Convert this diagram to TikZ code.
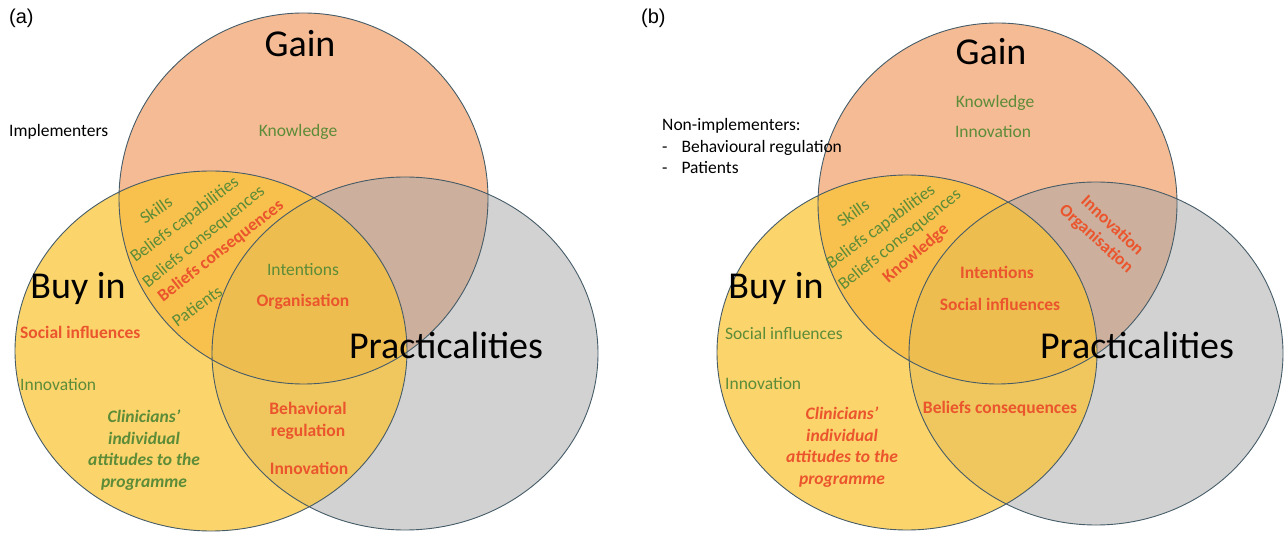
\documentclass[tikz,border=0pt]{standalone}
\usepackage{fontspec}
\setmainfont{Carlito}
\newfontfamily\panelfont{Liberation Sans}

\definecolor{gainfill}{RGB}{245,187,148}
\definecolor{pracfill}{RGB}{165,165,165}
\definecolor{buyfill}{RGB}{250,195,50}
\definecolor{rimcol}{RGB}{70,92,104}
\definecolor{tdfgreen}{RGB}{92,140,56}
\definecolor{tdfred}{RGB}{235,85,45}

\newcommand{\gainA}{(303.5,198.5) ellipse [x radius=184.5, y radius=185.5]}
\newcommand{\pracA}{(405,353.5) ellipse [x radius=193, y radius=176.5]}
\newcommand{\buyA}{(211,351) ellipse [x radius=196, y radius=180]}
\newcommand{\gainB}{(997.5,203.5) ellipse [x radius=179.5, y radius=180.5]}
\newcommand{\pracB}{(1096,353.5) ellipse [x radius=187, y radius=171.5]}
\newcommand{\buyB}{(907,352.5) ellipse [x radius=190, y radius=177.5]}

\newcommand{\attitudes}{Clinicians'\\individual\\attitudes to the\\programme}

\begin{document}
\begin{tikzpicture}[
    x=1pt, y=-1pt,
    gain/.style={fill=gainfill},
    prac/.style={fill=pracfill, fill opacity=0.5},
    buyin/.style={fill=buyfill, fill opacity=0.72},
    rim/.style={draw=rimcol, line width=0.9pt},
    big/.style={font=\fontsize{38}{40}\selectfont, anchor=base, inner sep=0pt},
    small/.style={font=\fontsize{17.5}{21.5}\selectfont, inner sep=0pt},
    greenlbl/.style={small, text=tdfgreen},
    redlbl/.style={small, text=tdfred, font=\fontsize{17.5}{21.5}\selectfont\bfseries},
    att/.style={font=\fontsize{17.5}{21.5}\selectfont\bfseries\itshape, align=center, inner sep=0pt},
    note/.style={small, anchor=west},
    panel/.style={font=\panelfont\fontsize{20}{22}\selectfont, anchor=west, inner sep=0pt}
]
\useasboundingbox (0,0) rectangle (1288,534);

\fill[gain] \gainA;
\fill[prac] \pracA;
\fill[buyin] \buyA;
\draw[rim] \gainA \pracA \buyA;

\fill[gain] \gainB;
\fill[prac] \pracB;
\fill[buyin] \buyB;
\draw[rim] \gainB \pracB \buyB;

% implementers
\node[panel] (pa) at (9,18) {(a)};
\node[big] (gaina) at (300,57) {Gain};
\node[big] (buya) at (78,299) {Buy in};
\node[big] (praca) at (446,359) {Practicalities};
\node[note] (impl) at (9,132) {Implementers};
\node[greenlbl] (knowa) at (298,132) {Knowledge};
\node[greenlbl, rotate=35] (skilla) at (156,210) {Skills};
\node[greenlbl, rotate=37] (capa) at (185,220) {Beliefs capabilities};
\node[greenlbl, rotate=39] (consa) at (204,237) {Beliefs consequences};
\node[redlbl, rotate=38] (consra) at (221,251) {Beliefs consequences};
\node[greenlbl, rotate=36] (pata) at (197,306) {Patients};
\node[greenlbl] (inta) at (303,270) {Intentions};
\node[redlbl] (orga) at (303,302) {Organisation};
\node[redlbl, anchor=west] (socia) at (20,332) {Social influences};
\node[greenlbl, anchor=west] (innoa) at (20,385) {Innovation};
\node[att, text=tdfgreen] (atta) at (144,450) {\attitudes};
\node[redlbl, align=center] (beha) at (308,421) {Behavioral\\regulation};
\node[redlbl] (innora) at (309,468) {Innovation};

% non-implementers
\node[panel] (pb) at (641,18) {(b)};
\node[big] (gainb) at (991,65) {Gain};
\node[big] (buyb) at (776,299) {Buy in};
\node[big] (pracb) at (1137,359) {Practicalities};
\node[note, align=left] (nonimp) at (662,146) {Non-implementers:\\-\hspace{14pt}Behavioural regulation\\-\hspace{14pt}Patients};
\node[greenlbl] (knowb) at (995,103) {Knowledge};
\node[greenlbl] (innob) at (993,132) {Innovation};
\node[greenlbl, rotate=35] (skillb) at (853,213) {Skills};
\node[greenlbl, rotate=36.5] (capb) at (881,227) {Beliefs capabilities};
\node[greenlbl, rotate=38.5] (consb) at (900,240) {Beliefs consequences};
\node[redlbl, rotate=41] (knowrb) at (916,254) {Knowledge};
\node[redlbl, rotate=-43] (innorb) at (1113,225) {Innovation};
\node[redlbl, rotate=-42] (orgb) at (1096,239) {Organisation};
\node[redlbl] (intb) at (997,272) {Intentions};
\node[redlbl] (socrb) at (1000,304) {Social influences};
\node[greenlbl, anchor=west] (socb) at (725,333) {Social influences};
\node[greenlbl, anchor=west] (innob2) at (725,384) {Innovation};
\node[att, text=tdfred] (attb) at (842,447) {\attitudes};
\node[redlbl] (consrb) at (1000,409) {Beliefs consequences};
\end{tikzpicture}
\end{document}
